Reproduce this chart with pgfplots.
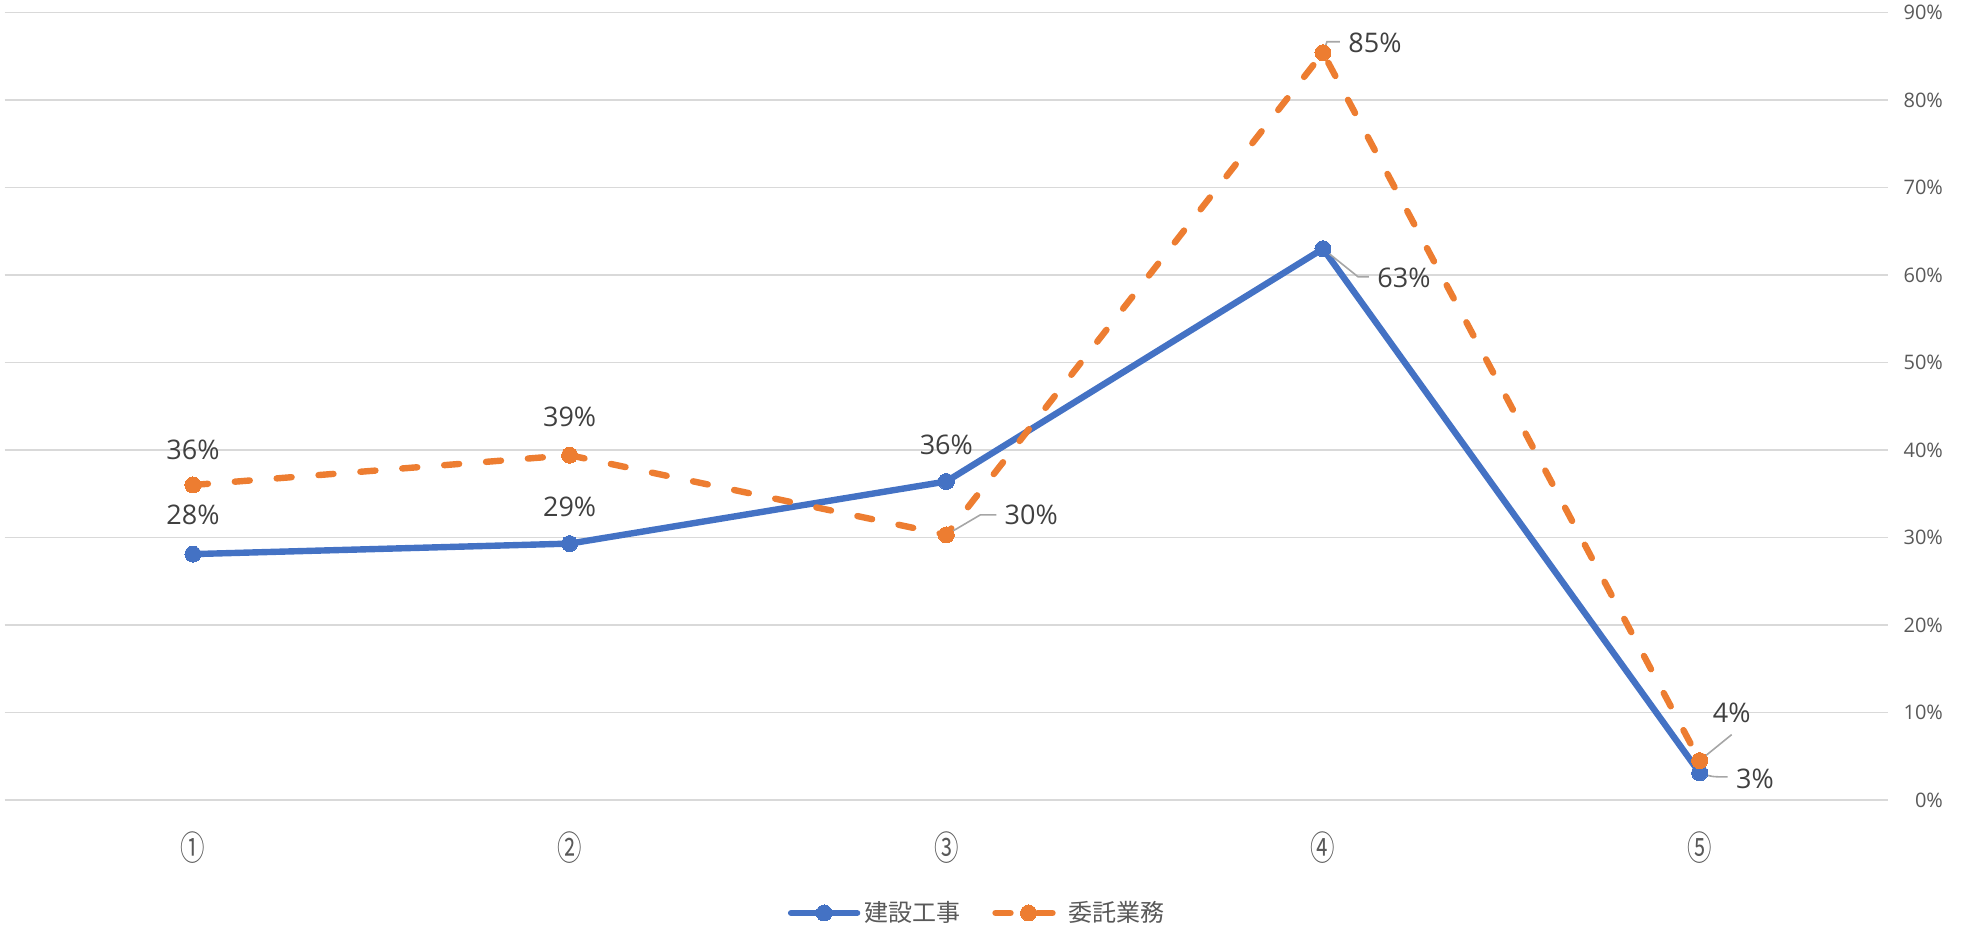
\documentclass[border=0pt]{standalone}
\usepackage{fontspec}
\setmainfont{Open Sans}
\newfontfamily\cjk{Noto Sans CJK JP}
\usepackage{graphicx}
\usepackage{pgfplots}
\pgfplotsset{compat=1.18}
\definecolor{cblue}{HTML}{4472C4}
\definecolor{corange}{HTML}{ED7D31}
\definecolor{gridc}{HTML}{D9D9D9}
\definecolor{tickc}{HTML}{595959}
\definecolor{labc}{HTML}{404040}
\definecolor{leadc}{HTML}{A6A6A6}
\newcommand{\cn}[1]{\scalebox{0.72}[1]{#1}}
\begin{document}
\begin{tikzpicture}
\begin{axis}[
  at={(0,0)}, anchor=south west,
  scale only axis,
  width=941.7pt, height=393.75pt,
  xmin=-0.5, xmax=4.5, ymin=0, ymax=90,
  xtick={0,1,2,3,4},
  xticklabels={\cn{①},\cn{②},\cn{③},\cn{④},\cn{⑤}},
  xticklabel style={font=\cjk\fontsize{17}{19}\selectfont, text=tickc, anchor=center, yshift=-24pt},
  ytick={0,10,...,90},
  yticklabel pos=right,
  yticklabel={\pgfmathprintnumber{\tick}\%},
  /pgf/number format/assume math mode=true,
  yticklabel style={font=\fontsize{10}{12}\selectfont, text=tickc, anchor=east, xshift=31pt},
  ymajorgrids, grid style={gridc, line width=0.8pt},
  axis line style={draw=none},
  major tick style={draw=none},
  clip=false,
  legend columns=2,
  legend style={at={(0.517,-0.1435)}, anchor=center, draw=none, fill=none,
    font=\cjk\fontsize{12}{14}\selectfont, text=tickc,
    /tikz/every even column/.append style={column sep=14pt}},
  legend image code/.code={
    \draw[#1, mark=none] (0pt,0pt) -- (33pt,0pt);
    \draw[#1, solid] plot coordinates {(16.5pt,0pt)};
  },
]
\addplot[cblue, line width=3.2pt, line cap=round, line join=round, mark=*, mark size=4pt, mark options={solid, fill=cblue, draw=cblue, line width=0pt}]
  coordinates {(0,28.1) (1,29.3) (2,36.4) (3,63.0) (4,3.1)};
\addlegendentry{建設工事}
\addplot[corange, line width=3.2pt, line cap=round, line join=round, dash pattern=on 7.5pt off 13.5pt, mark=*, mark size=4pt, mark options={solid, fill=corange, draw=corange, line width=0pt}]
  coordinates {(0,36.0) (1,39.4) (2,30.3) (3,85.4) (4,4.5)};
\addlegendentry{委託業務}

\tikzset{dl/.style={font=\fontsize{13.5}{16}\selectfont, text=labc, inner sep=0pt}}
\node[dl] at ([yshift=19.5pt]axis cs:0,28.1) {28\%};
\node[dl] at ([yshift=17.6pt]axis cs:0,36.0) {36\%};
\node[dl] at ([yshift=18.2pt]axis cs:1,29.3) {29\%};
\node[dl] at ([yshift=19.4pt]axis cs:1,39.4) {39\%};
\node[dl] at ([yshift=18.2pt]axis cs:2,36.4) {36\%};
\draw[leadc, line width=0.8pt] (axis cs:2,30.3) -- ([shift={(17pt,10pt)}]axis cs:2,30.3) -- ([shift={(25pt,10pt)}]axis cs:2,30.3);
\node[dl, anchor=west] at ([shift={(29pt,10pt)}]axis cs:2,30.3) {30\%};
\draw[leadc, line width=0.8pt] (axis cs:3,63.0) -- ([shift={(17.5pt,-14pt)}]axis cs:3,63.0) -- ([shift={(23pt,-14pt)}]axis cs:3,63.0);
\node[dl, anchor=west] at ([shift={(27pt,-14.5pt)}]axis cs:3,63.0) {63\%};
\draw[leadc, line width=0.8pt] (axis cs:3,85.4) -- ([shift={(2pt,5.5pt)}]axis cs:3,85.4) -- ([shift={(8.5pt,5.5pt)}]axis cs:3,85.4);
\node[dl, anchor=west] at ([shift={(12.5pt,5pt)}]axis cs:3,85.4) {85\%};
\draw[leadc, line width=0.8pt] (axis cs:4,4.5) -- ([shift={(16pt,13pt)}]axis cs:4,4.5);
\node[dl] at ([shift={(16pt,24pt)}]axis cs:4,4.5) {4\%};
\draw[leadc, line width=0.8pt] (axis cs:4,3.1) .. controls ([shift={(6pt,-2pt)}]axis cs:4,3.1) .. ([shift={(14pt,-2pt)}]axis cs:4,3.1);
\node[dl, anchor=west] at ([shift={(18pt,-3pt)}]axis cs:4,3.1) {3\%};
\end{axis}
\pgfresetboundingbox
\path (-2.3pt,-65pt) rectangle (980.7pt,400pt);
\end{tikzpicture}
\end{document}
